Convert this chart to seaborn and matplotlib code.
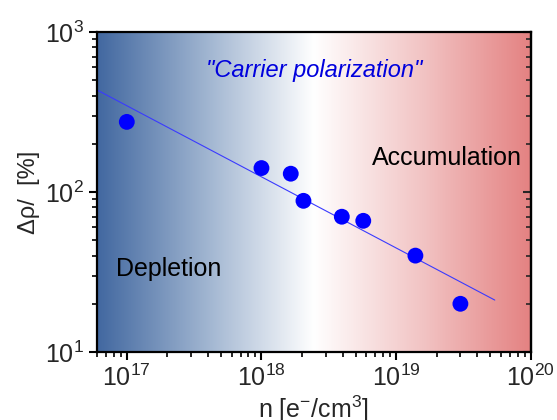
import numpy as np
import pandas as pd
import matplotlib
matplotlib.use('Agg')
import matplotlib.pyplot as plt
import seaborn as sns
from matplotlib.colors import LinearSegmentedColormap

# Dados
n_vals = [1.0e17, 1.0e18, 1.65e18, 2.05e18, 3.95e18, 5.7e18, 1.39e19, 3.0e19]
drho_vals = [274, 141, 130, 88, 70, 66, 40, 20]
fit_n = [6.0e16, 5.4e19]
fit_drho = [434, 21.1]

x_lim = (6.0e16, 1.0e20)
y_lim = (10, 1000)

sns.set_theme(style='ticks')
plt.rcParams['font.family'] = ['Liberation Sans', 'DejaVu Sans']
plt.rcParams['mathtext.fontset'] = 'custom'
plt.rcParams['mathtext.rm'] = 'Liberation Sans'
plt.rcParams['mathtext.it'] = 'Liberation Sans:italic'

df = pd.DataFrame({'n': n_vals, 'drho': drho_vals})
df_fit = pd.DataFrame({'n': fit_n, 'drho': fit_drho})

fig = plt.figure(figsize=(5.57, 4.2), dpi=100)
ax = fig.add_axes([0.174, 0.162, 0.779, 0.762])

# fundo em gradiente azul -> branco -> vermelho
cmap = LinearSegmentedColormap.from_list('bwr_soft', ['#4268a0', '#9fb4d0', '#ffffff', '#f2c4c4', '#e48282'])
grad = np.linspace(0, 1, 256).reshape(1, -1)
ax.imshow(grad, aspect='auto', cmap=cmap, extent=[0, 1, 0, 1],
          transform=ax.transAxes, zorder=0)

sns.lineplot(data=df_fit, x='n', y='drho', ax=ax, color='#3a3aff', linewidth=0.8, zorder=2)
sns.scatterplot(data=df, x='n', y='drho', ax=ax, color='#0000ff', s=130,
                edgecolor='none', zorder=3)

ax.set_xscale('log')
ax.set_yscale('log')
ax.set_xlim(*x_lim)
ax.set_ylim(*y_lim)

ax.set_xticks([1e17, 1e18, 1e19, 1e20])
ax.set_yticks([10, 100, 1000])

for s in ax.spines.values():
    s.set_linewidth(1.6)
    s.set_color('black')

ax.tick_params(axis='both', which='major', labelsize=18, length=6, width=1.5, color='black', pad=3)
ax.tick_params(axis='both', which='minor', length=3.5, width=1.2, color='black')
ax.tick_params(axis='y', which='both', direction='out', right=True)
ax.tick_params(axis='x', which='both', direction='out', top=False)

# ticks do lado direito para dentro
ax2 = ax.secondary_yaxis('right')
ax2.set_yscale('log') if hasattr(ax2, 'set_yscale') else None
ax.tick_params(axis='y', which='both', right=False)
ax2.tick_params(axis='y', which='major', direction='in', length=6, width=1.5, labelright=False)
ax2.tick_params(axis='y', which='minor', direction='in', length=3.5, width=1.2)
ax2.spines['right'].set_linewidth(1.6)

ax.set_xlabel('n [e$^{-}$/cm$^{3}$]', fontsize=18, labelpad=2)
ax.set_ylabel('Δρ/  [%]', fontsize=17, labelpad=4)

ax.text(0.5, 0.88, '"Carrier polarization"', transform=ax.transAxes, ha='center', va='center',
        fontsize=17, style='italic', color='#0000dd')
ax.text(0.98, 0.605, 'Accumulation', transform=ax.transAxes, ha='right', va='center',
        fontsize=18, color='black')
ax.text(0.045, 0.26, 'Depletion', transform=ax.transAxes, ha='left', va='center',
        fontsize=18, color='black')

fig.savefig('out.png', dpi=100)
plt.close()
